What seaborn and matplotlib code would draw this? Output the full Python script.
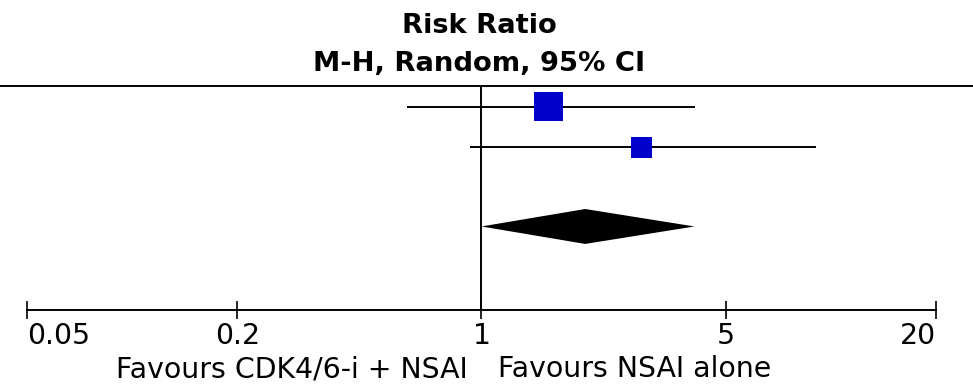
import numpy as np
import pandas as pd
import matplotlib
matplotlib.use("Agg")
import matplotlib.pyplot as plt
from matplotlib.lines import Line2D
import seaborn as sns

# ---- data ----
studies = ["Study 1", "Study 2"]
rr = [1.56, 2.88]
ci_low = [0.61, 0.93]
ci_high = [4.09, 9.08]
weights = [65.6, 34.4]
pooled_rr = 1.98
pooled_low = 1.00
pooled_high = 4.07
tick_values = [0.05, 0.2, 1, 5, 20]
tick_labels = ["0.05", "0.2", "1", "5", "20"]
title_lines = ["Risk Ratio", "M-H, Random, 95% CI"]
favours_left = "Favours CDK4/6-i + NSAI"
favours_right = "Favours NSAI alone"

sns.set_style("white")
plt.rcParams["font.family"] = ["DejaVu Sans"]
plt.rcParams["text.color"] = "black"

W, H = 973, 387
fig = plt.figure(figsize=(W / 100, H / 100), dpi=100)

def fx(px):
    return px / W

def fy(py):
    return (H - py) / H

ax_left, ax_right = 27, 936
ax_top, ax_bot = 86, 310
ax = fig.add_axes([fx(ax_left), fy(ax_bot), fx(ax_right - ax_left), (ax_bot - ax_top) / H])
ax.set_xscale("log")
ax.set_xlim(tick_values[0], tick_values[-1])
row_px = 40.6
row0_px = 106.7
ax.set_ylim((ax_bot - row0_px) / row_px, (ax_top - row0_px) / row_px)
ax.set_facecolor("none")

df = pd.DataFrame({"study": studies, "rr": rr, "lo": ci_low, "hi": ci_high,
                   "w": weights, "row": np.arange(len(studies), dtype=float)})

# CI lines
ax.hlines(df["row"], df["lo"], df["hi"], color="black", lw=1.4, zorder=2)
# weighted squares
sns.scatterplot(data=df, x="rr", y="row", size="w", sizes=(229, 436), marker="s",
                color="#0000CC", linewidth=0, legend=False, ax=ax, zorder=3)

# pooled diamond
prow = 2.95
dh = 0.43
ax.fill([pooled_low, pooled_rr, pooled_high, pooled_rr],
        [prow, prow - dh, prow, prow + dh], color="black", lw=0, zorder=3)

# line of no effect
ax.axvline(1, color="black", lw=1.4, zorder=1)

# spines / ticks
for s in ["top", "left", "right"]:
    ax.spines[s].set_visible(False)
ax.spines["bottom"].set_linewidth(1.4)
ax.spines["bottom"].set_color("black")
ax.set_xticks(tick_values)
ax.set_xticklabels(tick_labels)
ax.xaxis.set_minor_locator(matplotlib.ticker.NullLocator())
ax.tick_params(axis="x", which="major", bottom=True, direction="inout", length=13,
               width=1.2, pad=2, labelsize=20.4, colors="black")
ax.set_yticks([])
ax.set_xlabel("")
ax.set_ylabel("")
labs = ax.get_xticklabels()
labs[0].set_ha("left")
labs[-1].set_ha("right")

# top rule across full width
fig.add_artist(Line2D([0, 1], [fy(86), fy(86)], transform=fig.transFigure,
                      color="black", lw=1.4))

# titles
fig.text(fx(479), fy(33), title_lines[0], ha="center", va="baseline",
         fontsize=19.7, fontweight="bold", color="black")
fig.text(fx(479), fy(71), title_lines[1], ha="center", va="baseline",
         fontsize=19.7, fontweight="bold", color="black")

# favours labels
fig.text(fx(468), fy(377), favours_left, ha="right", va="baseline", fontsize=20.4,
         color="black")
fig.text(fx(498), fy(377), favours_right, ha="left", va="baseline", fontsize=20.4,
         color="black")

fig.savefig("out.png", dpi=100, facecolor="white")
